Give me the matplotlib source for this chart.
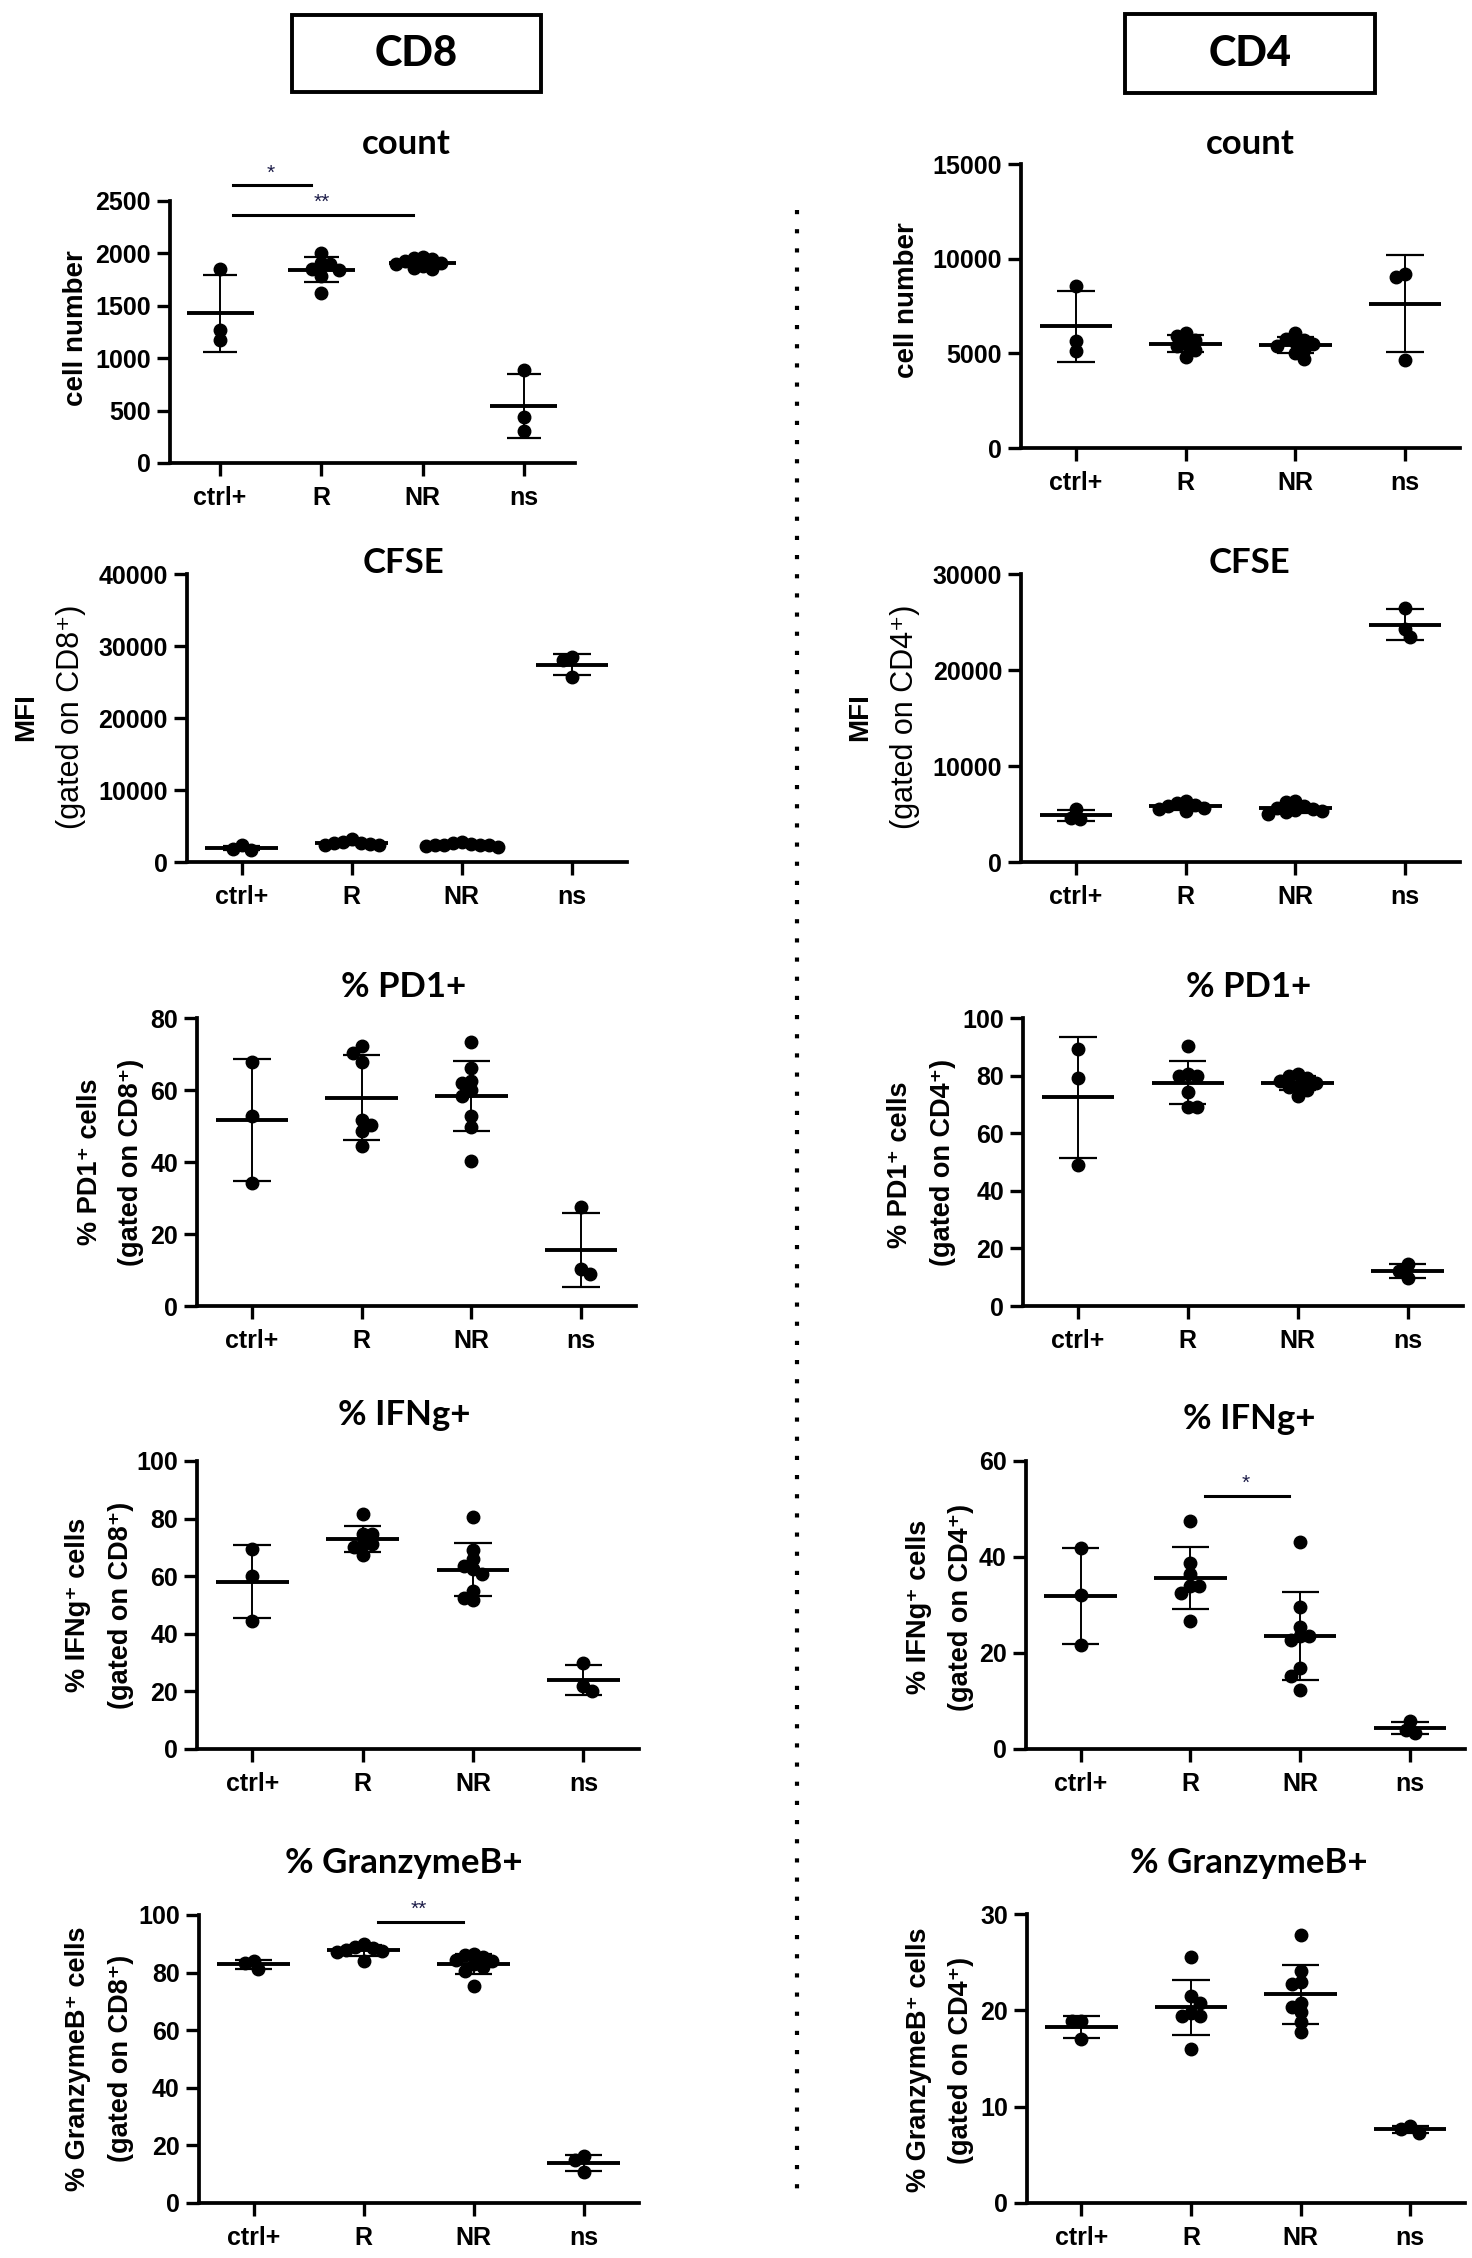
import numpy as np
import matplotlib.pyplot as plt
from matplotlib.lines import Line2D
from matplotlib.patches import Rectangle

plt.rcParams['font.family'] = ['Liberation Sans', 'DejaVu Sans']
plt.rcParams['font.weight'] = 'bold'

groups = ['ctrl+', 'R', 'NR', 'ns']

# values per group: ctrl+, R, NR, ns
cd8_count = [[1850, 1270, 1170],
             [2000, 1910, 1900, 1850, 1840, 1780, 1620],
             [1970, 1960, 1950, 1930, 1910, 1900, 1880, 1860, 1850],
             [890, 440, 310]]
cd8_cfse = [[2300, 1800, 1700],
            [3200, 2800, 2700, 2600, 2500, 2400, 2300],
            [2800, 2600, 2500, 2400, 2400, 2300, 2300, 2200, 2100],
            [28500, 28000, 25700]]
cd8_pd1 = [[67.9, 52.8, 34.1],
           [72.1, 70.3, 67.9, 51.7, 50.3, 48.5, 44.5],
           [73.2, 66.1, 62.6, 61.9, 60.1, 58.4, 52.8, 49.8, 40.4],
           [27.4, 10.4, 8.8]]
cd8_ifng = [[69.6, 60.2, 44.6],
            [81.5, 74.8, 74.8, 71.1, 71.1, 70.2, 67.3],
            [80.4, 69.1, 65.8, 63.5, 62.4, 60.7, 54.9, 52.3, 51.7],
            [29.8, 21.9, 20.0]]
cd8_gzmb = [[84.0, 83.5, 81.2],
            [90.0, 89.0, 88.5, 88.0, 87.5, 87.0, 84.0],
            [86.5, 86.0, 85.5, 84.5, 84.0, 83.0, 82.0, 80.5, 75.5],
            [16.2, 14.8, 10.8]]

cd4_count = [[8560, 5630, 5100],
             [6100, 5900, 5700, 5500, 5400, 5200, 4800],
             [6100, 5750, 5700, 5600, 5500, 5400, 5200, 5000, 4700],
             [9200, 9020, 4660]]
cd4_cfse = [[5500, 4600, 4500],
            [6400, 6100, 5900, 5800, 5600, 5500, 5300],
            [6400, 6200, 5800, 5600, 5500, 5400, 5300, 5200, 5000],
            [26500, 24300, 23400]]
cd4_pd1 = [[89.3, 79.1, 49.0],
           [90.2, 80.6, 80.0, 79.7, 74.2, 69.2, 69.2],
           [80.5, 80.0, 79.0, 78.0, 77.5, 76.5, 76.0, 75.0, 73.0],
           [14.6, 12.0, 9.6]]
cd4_ifng = [[41.8, 32.1, 21.7],
            [47.5, 38.7, 36.5, 33.9, 33.9, 32.5, 26.6],
            [43.2, 29.5, 25.5, 23.6, 23.6, 22.7, 16.8, 15.2, 12.3],
            [5.8, 4.0, 3.3]]
cd4_gzmb = [[18.9, 18.9, 17.0],
            [25.5, 21.5, 20.8, 19.7, 19.4, 19.4, 16.0],
            [27.8, 24.1, 22.9, 22.7, 20.8, 20.3, 19.8, 18.8, 17.8],
            [8.0, 7.7, 7.3]]

# significance: (group i, group j, bar level, label)
cd8_count_sig = [(0, 1, 2650, '*'), (0, 2, 2370, '**')]
cd8_gzmb_sig = [(1, 2, 97.7, '**')]
cd4_ifng_sig = [(1, 2, 52.7, '*')]

W, H = 1472, 2258
DOT = 12.5  # marker diameter in px

fig = plt.figure(figsize=(W / 100, H / 100), dpi=100)


def swarm(ypx, d):
    order = np.argsort(-ypx)
    xs = np.zeros(len(ypx))
    placed = []
    for n, i in enumerate(order):
        sgn = 1 if n % 2 == 0 else -1
        cands = [0.0]
        for k in range(1, 20):
            cands += [sgn * k * d * 0.36, -sgn * k * d * 0.36]
        for x in cands:
            if all((x - px) ** 2 + (ypx[i] - py) ** 2 >= (0.72 * d) ** 2 for px, py in placed):
                break
        placed.append((x, ypx[i]))
        xs[i] = x
    return xs


def draw_panel(box, data, ymax, ystep, title, title_xy, ylabels, sig=()):
    l, t, r, b = box
    ax = fig.add_axes([l / W, 1 - b / H, (r - l) / W, (b - t) / H])
    ax.set_xlim(-0.5, 3.5)
    ax.set_ylim(0, ymax)
    ppu = (b - t) / ymax
    ppc = (r - l) / 4.0
    for i, vals in enumerate(data):
        vals = np.asarray(vals, float)
        offs = swarm(vals * ppu, DOT) / ppc
        m = vals.mean()
        sd = vals.std(ddof=1)
        ax.vlines(i, m - sd, m + sd, color='k', lw=1.4, zorder=3)
        ax.hlines([m - sd, m + sd], i - 0.17, i + 0.17, color='k', lw=1.6, zorder=3)
        ax.hlines(m, i - 0.33, i + 0.33, color='k', lw=2.8, zorder=4)
        ax.plot(i + offs, vals, 'o', ms=DOT * 0.72, color='k', mec='k', zorder=5, clip_on=False)
    for i, j, lev, lab in sig:
        ax.plot([i + 0.13, j - 0.1], [lev, lev], color='k', lw=2.2, clip_on=False)
        ax.annotate(lab, ((i + j) / 2, lev), xytext=(0, 2), textcoords='offset points',
                    ha='center', va='bottom', fontsize=15, fontweight='normal',
                    color='#1c1c48', annotation_clip=False)
    ticks = np.arange(0, ymax + 1, ystep)
    ax.set_yticks(ticks)
    ax.set_yticklabels([str(int(v)) for v in ticks])
    ax.set_xticks(range(len(groups)))
    ax.set_xticklabels(groups)
    ax.tick_params(width=2.4, length=9.5, labelsize=18, pad=4)
    ax.tick_params(axis='x', pad=7)
    for s in ['top', 'right']:
        ax.spines[s].set_visible(False)
    for s in ['left', 'bottom']:
        ax.spines[s].set_linewidth(2.7)
    fig.text(title_xy[0] / W, 1 - title_xy[1] / H, title, ha='center', va='center',
             fontfamily='Lato', fontweight='bold', fontsize=25)
    for txt, x, y, wt, size in ylabels:
        fig.text(x / W, 1 - y / H, txt, rotation=90, ha='center', va='center',
                 rotation_mode='anchor', fontweight=wt, fontsize=size)
    return ax


# CD8 column
draw_panel((169.5, 201, 574.5, 463), cd8_count, 2500, 500, 'count', (406, 144),
           [('cell number', 76, 328, 'bold', 20)], cd8_count_sig)
draw_panel((186.6, 574, 627, 862), cd8_cfse, 40000, 10000, 'CFSE', (404, 563),
           [('MFI', 26, 717, 'bold', 20), ('(gated on CD8⁺)', 71, 717, 'normal', 22)])
draw_panel((197, 1018, 636, 1306), cd8_pd1, 80, 20, '% PD1+', (404, 987),
           [('% PD1⁺ cells', 90, 1162, 'bold', 19.5), ('(gated on CD8⁺)', 131, 1162, 'bold', 19.5)])
draw_panel((197, 1461, 638.6, 1749), cd8_ifng, 100, 20, '% IFNg+', (404, 1415),
           [('% IFNg⁺ cells', 78, 1605, 'bold', 19.5), ('(gated on CD8⁺)', 121, 1605, 'bold', 19.5)])
draw_panel((198.5, 1915, 638.6, 2203), cd8_gzmb, 100, 20, '% GranzymeB+', (404, 1863),
           [('% GranzymeB⁺ cells', 78, 2059, 'bold', 19.5), ('(gated on CD8⁺)', 121, 2058, 'bold', 19.5)],
           cd8_gzmb_sig)

# CD4 column
draw_panel((1021, 164, 1460, 448), cd4_count, 15000, 5000, 'count', (1250, 144),
           [('cell number', 907, 300, 'bold', 20)])
draw_panel((1021, 574, 1460, 862), cd4_cfse, 30000, 10000, 'CFSE', (1249, 563),
           [('MFI', 860, 717, 'bold', 20), ('(gated on CD4⁺)', 905, 717, 'normal', 22)])
draw_panel((1023, 1018, 1462.5, 1306), cd4_pd1, 100, 20, '% PD1+', (1249, 987),
           [('% PD1⁺ cells', 900, 1165, 'bold', 19.5), ('(gated on CD4⁺)', 943, 1162, 'bold', 19.5)])
draw_panel((1025.6, 1461, 1465, 1749), cd4_ifng, 60, 20, '% IFNg+', (1249, 1419),
           [('% IFNg⁺ cells', 919, 1607, 'bold', 19.5), ('(gated on CD4⁺)', 961, 1607, 'bold', 19.5)],
           cd4_ifng_sig)
draw_panel((1026.6, 1914, 1465, 2203), cd4_gzmb, 30, 10, '% GranzymeB+', (1249, 1863),
           [('% GranzymeB⁺ cells', 919, 2060, 'bold', 19.5), ('(gated on CD4⁺)', 961, 2060, 'bold', 19.5)])

# header boxes
for label, (l, t, r, b) in [('CD8', (292, 15, 541, 92)), ('CD4', (1125, 14, 1375, 93))]:
    fig.add_artist(Rectangle((l / W, 1 - b / H), (r - l) / W, (b - t) / H, fill=False,
                             lw=2.8, ec='k', transform=fig.transFigure))
    fig.text((l + r) / 2 / W, 1 - (t + b) / 2 / H, label, ha='center', va='center',
             fontfamily='Lato', fontweight='black', fontsize=30)

# dotted separator
fig.add_artist(Line2D([797 / W, 797 / W], [1 - 210 / H, 1 - 2190 / H], transform=fig.transFigure,
                      color='k', lw=3, linestyle=(0, (1, 3.6)), dash_capstyle='butt'))

fig.savefig('out.png', dpi=100)
